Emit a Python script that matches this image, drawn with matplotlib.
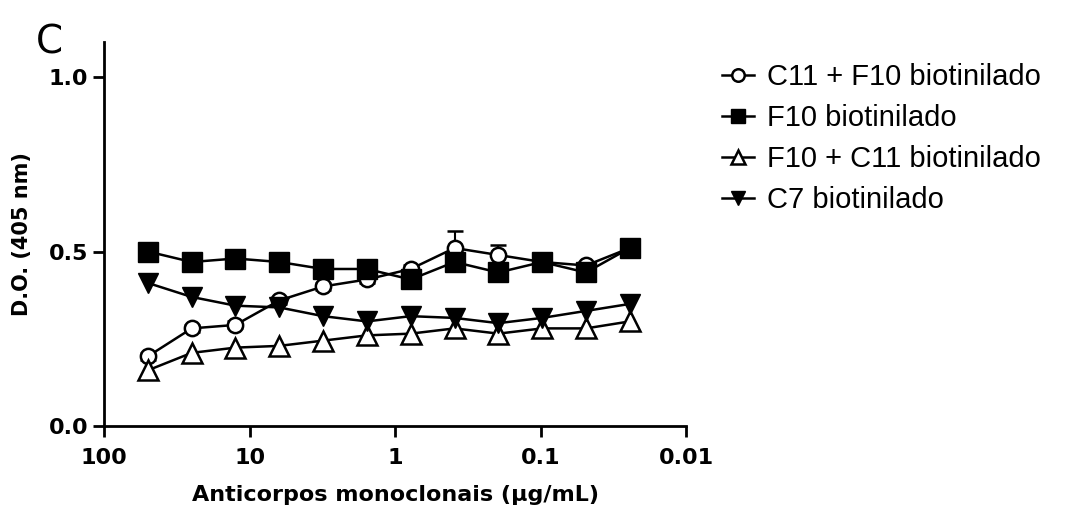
import numpy as np
import matplotlib.pyplot as plt
from matplotlib.lines import Line2D

conc = [50, 25, 12.5, 6.25, 3.125, 1.5625, 0.78125, 0.390625, 0.1953, 0.0977, 0.0488, 0.0244]

c11_f10 = [0.20, 0.28, 0.29, 0.36, 0.40, 0.42, 0.45, 0.51, 0.49, 0.47, 0.46, 0.51]
c11_f10_err = [0.01, 0.01, 0.01, 0.01, 0.01, 0.01, 0.01, 0.05, 0.03, 0.01, 0.01, 0.01]
f10 = [0.50, 0.47, 0.48, 0.47, 0.45, 0.45, 0.42, 0.47, 0.44, 0.47, 0.44, 0.51]
f10_c11 = [0.16, 0.21, 0.225, 0.23, 0.245, 0.26, 0.265, 0.28, 0.265, 0.28, 0.28, 0.30]
c7 = [0.41, 0.37, 0.345, 0.34, 0.315, 0.30, 0.315, 0.31, 0.295, 0.31, 0.33, 0.35]

labels = ['C11 + F10 biotinilado', 'F10 biotinilado', 'F10 + C11 biotinilado', 'C7 biotinilado']

fig = plt.figure(figsize=(10.84, 5.23), dpi=100)
ax = fig.add_axes([0.096, 0.185, 0.537, 0.735])

kw = dict(color='black', lw=1.8, capsize=6, elinewidth=1.5, capthick=1.5)
ax.errorbar(conc, c11_f10, yerr=c11_f10_err, marker='o', ms=11, mfc='white', mec='black', mew=1.8, **kw)
ax.errorbar(conc, f10, marker='s', ms=14, mfc='black', mec='black', **kw)
ax.errorbar(conc, f10_c11, marker='^', ms=14, mfc='white', mec='black', mew=1.8, **kw)
ax.errorbar(conc, c7, marker='v', ms=14, mfc='black', mec='black', **kw)

ax.set_xscale('log')
ax.set_xlim(100, 0.01)
ax.set_ylim(0, 1.1)
ax.set_xticks([100, 10, 1, 0.1, 0.01])
ax.set_xticklabels(['100', '10', '1', '0.1', '0.01'])
ax.minorticks_off()
ax.set_yticks([0.0, 0.5, 1.0])
ax.set_yticklabels(['0.0', '0.5', '1.0'])
ax.spines['top'].set_visible(False)
ax.spines['right'].set_visible(False)
for s in ['left', 'bottom']:
    ax.spines[s].set_linewidth(2)
ax.tick_params(width=2, length=8, labelsize=16)
ax.tick_params(axis='x', pad=8)
for t in ax.get_xticklabels() + ax.get_yticklabels():
    t.set_fontweight('bold')

ax.set_xlabel('Anticorpos monoclonais (µg/mL)', fontsize=16, fontweight='bold', labelpad=12)
ax.set_ylabel('D.O. (405 nm)', fontsize=15, fontweight='bold', labelpad=12)

fig.text(0.033, 0.955, 'C', fontsize=28, va='top', ha='left')

handles = [
    Line2D([], [], color='black', lw=1.8, marker='o', ms=9, mfc='white', mec='black', mew=1.8),
    Line2D([], [], color='black', lw=1.8, marker='s', ms=10, mfc='black', mec='black'),
    Line2D([], [], color='black', lw=1.8, marker='^', ms=10, mfc='white', mec='black', mew=1.8),
    Line2D([], [], color='black', lw=1.8, marker='v', ms=10, mfc='black', mec='black'),
]
fig.legend(handles, labels, loc='upper left', bbox_to_anchor=(0.642, 0.93),
           frameon=False, prop={'family': 'Liberation Sans', 'size': 21},
           handlelength=1.1, handletextpad=0.45, labelspacing=0.45)

plt.savefig('out.png', dpi=100)
